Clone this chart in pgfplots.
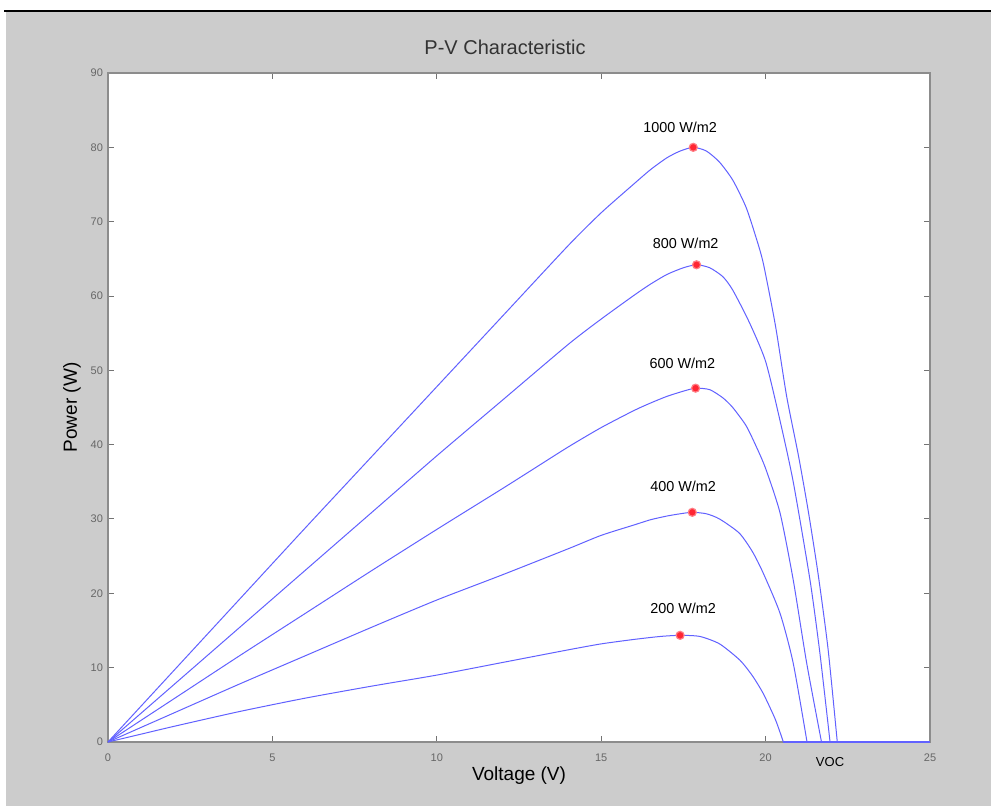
\documentclass[border=0pt]{standalone}
\usepackage{pgfplots}
\pgfplotsset{compat=1.18}
\usepackage{pgfplotstable}
\usepackage{fontspec}
\setmainfont{Liberation Sans}

\pgfplotstableread{
V P
0 0
1 4.8
2 9.6
4 19.2
6 28.8
8 38.3
10 47.8
12 57.3
14 66.8
15 71.2
16 75.1
16.5 77.0
17 78.6
17.4 79.5
17.8 80.0
18.2 79.5
18.6 78.0
19.0 75.6
19.4 72.0
19.7 68.0
19.93 64.4
20.3 56.0
20.64 46.5
21.0 38.5
21.3 31.0
21.6 22.5
21.9 12.5
22.18 0
}\gA
\pgfplotstableread{
V P
0 0
1 3.85
2 7.7
4 15.4
6 23.1
8 30.8
10 38.5
12 46.0
14 53.5
15 56.9
16 60.1
16.5 61.6
17 62.9
17.5 63.8
17.9 64.2
18.3 63.8
18.7 62.6
19.0 60.8
19.5 56.5
20.0 51.2
20.44 43.2
20.84 35.0
21.35 21.8
21.65 12.0
21.96 0
}\gB
\pgfplotstableread{
V P
0 0
1 2.9
2 5.8
4 11.6
6 17.3
8 23.0
10 28.6
12 34.1
13 36.9
14 39.7
15 42.3
16 44.6
16.5 45.6
17 46.5
17.5 47.2
17.87 47.6
18.3 47.4
18.7 46.3
19.0 45.0
19.4 42.6
19.7 39.9
20.0 36.8
20.44 30.8
20.84 21.8
21.25 10.6
21.7 0
}\gC
\pgfplotstableread{
V P
0 0
1 1.95
2 3.9
4 7.8
6 11.6
8 15.4
10 19.1
12 22.5
14 26.0
15 27.8
16 29.2
16.5 29.9
17 30.4
17.4 30.7
17.77 30.9
18.2 30.7
18.6 30.0
19.2 28.1
19.6 25.6
19.93 22.7
20.44 17.3
20.84 10.6
21.26 0
}\gD
\pgfplotstableread{
V P
0 0
1 1.05
2 2.1
4 4.1
6 5.9
8 7.5
10 9.0
12 10.7
14 12.4
15 13.2
16 13.8
16.8 14.2
17.4 14.35
18.0 14.2
18.6 13.2
19.22 11.0
19.6 8.9
19.93 6.5
20.3 3.0
20.54 0
}\gE

\definecolor{figgray}{gray}{0.8}
\definecolor{curve}{rgb}{0.38,0.38,1}
\definecolor{peak}{rgb}{1,0.15,0.2}

\begin{document}
\begin{tikzpicture}
\fill[white] (0,0) rectangle (495.5pt,404pt);
\fill[figgray] (3pt,1pt) rectangle (495.5pt,398pt);
\fill[black] (2pt,398pt) rectangle (495.5pt,399.2pt);
\begin{axis}[
  at={(54pt,33pt)}, anchor=south west,
  scale only axis, width=411pt, height=334.5pt,
  xmin=0, xmax=25, ymin=0, ymax=90,
  xtick={0,5,...,25}, ytick={0,10,...,90},
  axis background/.style={fill=white},
  axis line style={black!45, line width=0.8pt},
  tick style={black!55, line width=0.5pt},
  tick align=inside, major tick length=3pt,
  /pgf/number format/assume math mode=true,
  ticklabel style={font=\fontsize{5.5}{6}\selectfont, text=black!60},
  xticklabel style={yshift=-2.5pt},
  yticklabel style={xshift=1pt},
  clip=false,
  title={P-V Characteristic},
  title style={at={(axis description cs:0.483,1.021)}, anchor=center, font=\fontsize{10}{12}\selectfont, text=black!80},
  xlabel={Voltage (V)},
  xlabel style={at={(axis description cs:0.5,-0.0508)}, anchor=center, font=\fontsize{9.5}{11}\selectfont},
  ylabel={Power (W)},
  ylabel style={at={(axis description cs:-0.0438,0.5)}, anchor=center, font=\fontsize{9.5}{11}\selectfont},
]
\addplot[curve, line width=0.5pt, smooth, tension=0.4] table[x=V,y=P] {\gA};
\addplot[curve, line width=0.5pt, smooth, tension=0.4] table[x=V,y=P] {\gB};
\addplot[curve, line width=0.5pt, smooth, tension=0.4] table[x=V,y=P] {\gC};
\addplot[curve, line width=0.5pt, smooth, tension=0.4] table[x=V,y=P] {\gD};
\addplot[curve, line width=0.5pt, smooth, tension=0.4] table[x=V,y=P] {\gE};
\addplot[curve, line width=0.6pt] coordinates {(20.54,0) (25,0)};
\addplot[peak, only marks, mark=*, mark size=2pt, mark options={solid, fill=peak, draw=peak!60!white, line width=0.6pt}]
  coordinates {(17.8,80.0) (17.9,64.2) (17.87,47.6) (17.77,30.9) (17.4,14.35)};
\node[font=\fontsize{7.2}{8}\selectfont] at (axis cs:17.4,82.7) {1000 W/m2};
\node[font=\fontsize{7.2}{8}\selectfont] at (axis cs:17.57,67.1) {800 W/m2};
\node[font=\fontsize{7.2}{8}\selectfont] at (axis cs:17.47,50.9) {600 W/m2};
\node[font=\fontsize{7.2}{8}\selectfont] at (axis cs:17.49,34.4) {400 W/m2};
\node[font=\fontsize{7.2}{8}\selectfont] at (axis cs:17.49,18.0) {200 W/m2};
\node[font=\fontsize{6.5}{7}\selectfont] at (axis cs:21.96,-2.65) {VOC};
\end{axis}
\pgfresetboundingbox
\useasboundingbox (0,0) rectangle (495.5pt,404pt);
\end{tikzpicture}
\end{document}
